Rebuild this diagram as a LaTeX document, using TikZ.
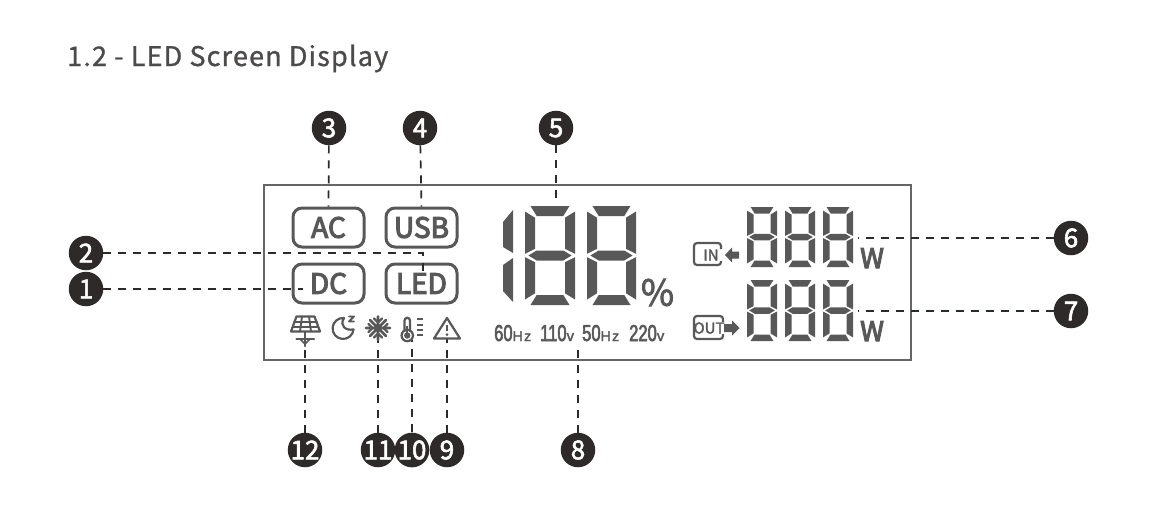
\documentclass[tikz,border=0pt]{standalone}
\usepackage{fontspec}
\setmainfont{Noto Sans CJK SC}
\newfontfamily\titlefont[LetterSpace=4.3,FakeBold=1]{Noto Sans CJK SC}
\newfontfamily\badgefont[FakeBold=2.2]{Noto Sans CJK SC}
\newfontfamily\heavyfont[FakeBold=4]{Noto Sans CJK SC}
\newfontfamily\lcdfont[FakeStretch=0.72,FakeBold=2.5]{Liberation Sans}
\newfontfamily\lcdsmall[LetterSpace=10,FakeBold=2]{Liberation Sans}
\definecolor{ink}{HTML}{2E2A2A}
\definecolor{lcd}{HTML}{585858}
\definecolor{framec}{HTML}{666666}
\tikzset{
  badge/.style={circle,fill=ink,text=white,minimum size=34.5pt,inner sep=0pt,font=\fontsize{26}{26}\selectfont\badgefont},
  leader/.style={draw=ink,line width=1.7pt,dash pattern=on 8pt off 7pt},
  tag/.style={draw=lcd,line width=3pt,rounded corners=9pt,minimum width=71pt,minimum height=39pt,inner sep=0pt,text=lcd,font=\fontsize{28}{28}\selectfont\heavyfont},
  icon/.style={draw=lcd,line width=2.2pt,line cap=round,line join=round},
  lcdtext/.style={text=lcd,inner sep=0pt,anchor=base west},
  seg/.style={fill=lcd}
}
\newcommand{\sevenseg}[5]{%
  \begin{scope}[shift={(#1,#2)}]
    \pgfmathsetmacro\W{#3}\pgfmathsetmacro\M{#4/2}\pgfmathsetmacro\Hh{#4}
    \pgfmathsetmacro\T{#5}\pgfmathsetmacro\g{#5*0.17}\pgfmathsetmacro\c{#5*0.55}
    \fill[seg] (\c,0)--({\W-\c},0)--({\W-\T-\g},\T)--({\T+\g},\T)--cycle;
    \fill[seg] (\c,\Hh)--({\W-\c},\Hh)--({\W-\T-\g},{\Hh-\T})--({\T+\g},{\Hh-\T})--cycle;
    \fill[seg] ({2*\g},\M)--({\T+\g},{\M-\T/2})--({\W-\T-\g},{\M-\T/2})--({\W-2*\g},\M)--({\W-\T-\g},{\M+\T/2})--({\T+\g},{\M+\T/2})--cycle;
    \fill[seg] (0,\c)--(\T,{\T+\g})--(\T,{\M-\T/2-\g})--(0,{\M-\g})--cycle;
    \fill[seg] (\W,\c)--({\W-\T},{\T+\g})--({\W-\T},{\M-\T/2-\g})--(\W,{\M-\g})--cycle;
    \fill[seg] (0,{\Hh-\c})--(\T,{\Hh-\T-\g})--(\T,{\M+\T/2+\g})--(0,{\M+\g})--cycle;
    \fill[seg] (\W,{\Hh-\c})--({\W-\T},{\Hh-\T-\g})--({\W-\T},{\M+\T/2+\g})--(\W,{\M+\g})--cycle;
  \end{scope}}
\begin{document}
\begin{tikzpicture}[x=1pt,y=-1pt]
\useasboundingbox (0,0) rectangle (1168,507);
\fill[white] (0,0) rectangle (1168,507);
\node[anchor=base west,inner sep=0pt,text=ink!85!white,font=\fontsize{27}{27}\selectfont\titlefont] (title) at (67,66) {1.2 - LED Screen Display};
% frame
\draw[framec,line width=2.2pt] (264,185) rectangle (911,360);
% tags
\node[tag] (ac) at (328.5,227.5) {AC};
\node[tag] (usb) at (421.5,227.5) {USB};
\node[tag] (dc) at (328.5,283.5) {DC};
\node[tag] (led) at (421.5,283.5) {LED};
% badges
\node[badge] (n1) at (86,289) {1};
\node[badge] (n2) at (86,253) {2};
\node[badge] (n3) at (329,128) {3};
\node[badge] (n4) at (420,128) {4};
\node[badge] (n5) at (556,128) {5};
\node[badge] (n6) at (1071,238) {6};
\node[badge] (n7) at (1071,311) {7};
\node[badge] (n8) at (578,450) {8};
\node[badge] (n9) at (447,450) {9};
\node[badge] (n10) at (412,450) {10};
\node[badge] (n11) at (378,450) {11};
\node[badge] (n12) at (305,450) {12};
% free ends
\coordinate (pled) at (423,272);
\coordinate (pdc) at (303,289);
\coordinate (pfive) at (556,205);
\coordinate (psix) at (858,238);
\coordinate (pseven) at (858,311);
\coordinate (peight) at (578,345);
\coordinate (pnine) at (447,338);
\coordinate (pten) at (412,340);
\coordinate (peleven) at (378,335);
\coordinate (ptwelve) at (305,333);
% connectors
\draw[leader] (n1) -- (pdc);
\draw[leader] (n2) -| (pled);
\draw[leader] (n3) -- (ac.north);
\draw[leader] (n4) -- (usb.north);
\draw[leader] (n5) -- (pfive);
\draw[leader] (n6) -- (psix);
\draw[leader] (n7) -- (pseven);
\draw[leader] (n8) -- (peight);
\draw[leader] (n9) -- (pnine);
\draw[leader] (n10) -- (pten);
\draw[leader] (n11) -- (peleven);
\draw[leader] (n12) -- (ptwelve);
% big display
\fill[seg] (513,210)--(503,222)--(503,247)--(513,253)--cycle;
\fill[seg] (513,258)--(503,265)--(503,291)--(513,302)--cycle;
\sevenseg{525}{206}{50}{99}{10}
\sevenseg{587}{206}{49}{99}{10}
\node[text=lcd,inner sep=0pt,font=\fontsize{36}{36}\selectfont\badgefont] (pct) at (657.5,292.5) {\%};
% small displays
\sevenseg{747}{207}{30}{60}{6.5}
\sevenseg{785}{207}{30}{60}{6.5}
\sevenseg{823}{207}{30}{60}{6.5}
\sevenseg{747}{280}{30}{61}{6.5}
\sevenseg{785}{280}{30}{61}{6.5}
\sevenseg{823}{280}{30}{61}{6.5}
\node[lcdtext,font=\fontsize{27}{27}\selectfont\heavyfont] (w1) at (860,268) {W};
\node[lcdtext,font=\fontsize{27}{27}\selectfont\heavyfont] (w2) at (860,341) {W};
% frequency / voltage labels
\node[lcdtext,font=\fontsize{23}{23}\selectfont\lcdfont] (f1) at (494,341) {60{\fontsize{14}{14}\selectfont\lcdsmall Hz}};
\node[lcdtext,font=\fontsize{23}{23}\selectfont\lcdfont] (f2) at (540,341) {110{\fontsize{15}{15}\selectfont\lcdsmall v}};
\node[lcdtext,font=\fontsize{23}{23}\selectfont\lcdfont] (f3) at (582,341) {50{\fontsize{14}{14}\selectfont\lcdsmall Hz}};
\node[lcdtext,font=\fontsize{23}{23}\selectfont\lcdfont] (f4) at (629,341) {220{\fontsize{15}{15}\selectfont\lcdsmall v}};
% IN box
\draw[lcd,line width=2.2pt,rounded corners=3pt] (721,249)--(721,243)--(694,243)--(694,265)--(721,265)--(721,261);
\node[text=lcd,inner sep=0pt,font=\fontsize{15}{15}\selectfont\badgefont] (intext) at (711,255) {IN};
\fill[lcd] (725,255)--(732,247.5)--(732,251.5)--(739,251.5)--(739,258.5)--(732,258.5)--(732,262.5)--cycle;
% OUT box
\draw[lcd,line width=2.2pt,rounded corners=3pt] (723,322)--(723,316)--(694,316)--(694,339)--(723,339)--(723,334);
\node[text=lcd,inner sep=0pt,font=\fontsize{15}{15}\selectfont\badgefont] (outtext) at (709,328) {OUT};
\fill[lcd] (739.5,328)--(732,320.5)--(732,324)--(724,324)--(724,332)--(732,332)--(732,335.5)--cycle;
% solar panel
\draw[icon] (296.5,316.5)--(314.5,316.5)--(320,331.5)--(291,331.5)--cycle;
\draw[icon,line width=1.9pt] (294,322)--(317,322) (292.5,327)--(318.5,327) (302,316.5)--(300,331.5) (309,316.5)--(311,331.5);
\draw[icon] (305,332)--(305,346) (296.5,339)--(314,339);
\draw[icon,line width=1.7pt] (305,344)--(300,339) (305,344)--(310,339);
% moon
\draw[icon] (344,318) arc[start angle=-85,end angle=-355,radius=10.5] .. controls (346,331) and (339,326) .. cycle;
\draw[icon,line width=1.8pt] (349,316.5)--(354,316.5)--(349,321.5)--(354,321.5);
% snowflake
\draw[icon,line width=2.8pt] (378,316.5)--(378,340) (366,328)--(390,328) (370,320)--(386,336) (370,336)--(386,320);
\draw[icon,line width=2.2pt] (374,318.5)--(378,322.5)--(382,318.5) (374,337.5)--(378,333.5)--(382,337.5) (368.5,324)--(372.5,328)--(368.5,332) (387.5,324)--(383.5,328)--(387.5,332);
% thermometer
\draw[icon] (404.5,331)--(404.5,320.5) arc[start angle=-180,end angle=0,radius=2.75]--(410,331);
\draw[icon] (407.25,335.5) circle (5.7);
\fill[lcd] (407.25,335.5) circle (3.2);
\fill[lcd] (406.2,326) rectangle (408.3,335);
\draw[lcd,line width=2.2pt] (417,319)--(423,319) (417,325)--(423,325) (417,330)--(423,330) (417,335)--(423,335);
% warning triangle
\draw[icon] (447,318)--(460,338.5)--(434,338.5)--cycle;
\draw[lcd,line width=2.4pt] (447,325)--(447,331);
\fill[lcd] (447,334.5) circle (1.5);
\end{tikzpicture}
\end{document}
